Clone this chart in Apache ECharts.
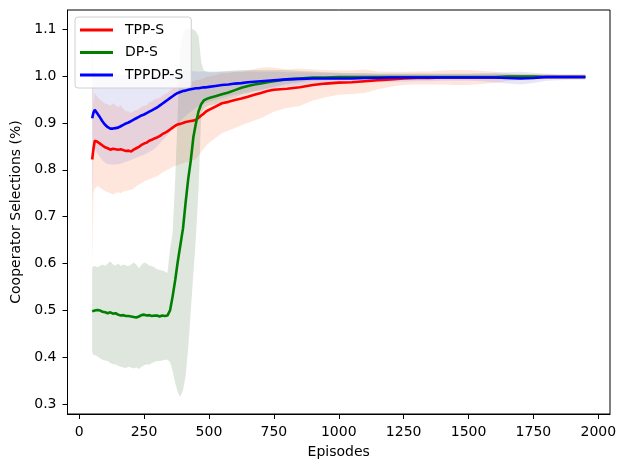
<!DOCTYPE html>
<html>
<head>
<meta charset="utf-8">
<script src="https://cdn.jsdelivr.net/npm/echarts@6/dist/echarts.min.js"></script>
<style>html,body{margin:0;padding:0;background:#fff}#c{width:623px;height:460px}</style>
</head>
<body>
<div id="c"></div>
<script>
const episodes = [50,55,60,70,80,90,100,110,120,130,140,150,160,170,180,190,200,210,220,230,240,250,260,270,280,290,300,310,320,330,340,350,360,370,380,390,400,410,420,430,440,450,460,470,480,490,500,525,550,575,600,625,650,675,700,725,750,775,800,850,900,950,1000,1050,1100,1150,1200,1250,1300,1350,1400,1450,1500,1550,1600,1650,1700,1750,1800,1850,1900,1950];

const xTicks = [0,250,500,750,1000,1250,1500,1750,2000];
const yTicks = [0.3,0.4,0.5,0.6,0.7,0.8,0.9,1.0,1.1];
const seriesNames = ['TPP-S','DP-S','TPPDP-S'];

const tppMean = [0.822,0.845,0.862,0.860,0.856,0.852,0.848,0.846,0.843,0.845,0.844,0.843,0.844,0.842,0.840,0.841,0.839,0.843,0.846,0.849,0.853,0.856,0.858,0.862,0.864,0.867,0.869,0.872,0.876,0.879,0.882,0.886,0.890,0.894,0.897,0.898,0.900,0.902,0.903,0.904,0.905,0.907,0.911,0.916,0.920,0.925,0.928,0.935,0.942,0.945,0.949,0.952,0.956,0.960,0.964,0.968,0.971,0.972,0.973,0.976,0.981,0.984,0.986,0.987,0.989,0.991,0.993,0.995,0.996,0.996,0.997,0.997,0.997,0.997,0.997,0.998,0.998,0.998,0.998,0.998,0.998,0.998];
const tppLow = [0.590,0.750,0.760,0.765,0.762,0.758,0.755,0.752,0.750,0.748,0.750,0.752,0.750,0.754,0.755,0.757,0.757,0.760,0.765,0.768,0.772,0.775,0.778,0.780,0.782,0.784,0.786,0.790,0.794,0.797,0.800,0.803,0.806,0.809,0.810,0.812,0.814,0.816,0.817,0.819,0.821,0.823,0.830,0.838,0.845,0.852,0.857,0.868,0.878,0.884,0.889,0.895,0.900,0.905,0.910,0.917,0.924,0.928,0.932,0.936,0.948,0.955,0.960,0.962,0.964,0.972,0.977,0.981,0.982,0.982,0.982,0.981,0.981,0.983,0.985,0.990,0.992,0.993,0.994,0.994,0.994,0.994];
const tppHigh = [1.090,0.940,0.964,0.955,0.950,0.946,0.941,0.940,0.936,0.942,0.938,0.934,0.938,0.930,0.925,0.925,0.921,0.926,0.927,0.930,0.934,0.937,0.938,0.944,0.946,0.950,0.952,0.954,0.958,0.961,0.964,0.969,0.974,0.979,0.984,0.984,0.986,0.988,0.989,0.989,0.989,0.991,0.992,0.994,0.995,0.998,0.999,1.002,1.006,1.006,1.009,1.009,1.012,1.015,1.018,1.019,1.018,1.016,1.014,1.016,1.014,1.013,1.012,1.012,1.014,1.010,1.009,1.009,1.010,1.010,1.012,1.013,1.013,1.011,1.009,1.006,1.004,1.003,1.002,1.002,1.002,1.002];

const dpMean = [0.498,0.499,0.500,0.501,0.500,0.497,0.496,0.494,0.496,0.493,0.494,0.491,0.489,0.490,0.488,0.488,0.487,0.486,0.485,0.487,0.490,0.491,0.489,0.490,0.488,0.489,0.489,0.487,0.489,0.488,0.489,0.500,0.530,0.565,0.605,0.640,0.675,0.730,0.780,0.820,0.870,0.900,0.925,0.940,0.948,0.951,0.953,0.957,0.961,0.965,0.970,0.975,0.979,0.982,0.984,0.987,0.989,0.991,0.993,0.995,0.997,0.997,0.998,0.998,0.998,0.998,0.998,0.998,0.998,0.998,0.998,0.998,0.998,0.998,0.998,0.999,0.999,0.999,0.998,0.998,0.998,0.998];
const dpLow = [0.410,0.405,0.405,0.402,0.398,0.395,0.393,0.392,0.388,0.385,0.385,0.382,0.380,0.378,0.377,0.380,0.378,0.376,0.379,0.375,0.380,0.383,0.385,0.384,0.388,0.390,0.392,0.392,0.393,0.395,0.395,0.390,0.370,0.345,0.325,0.316,0.330,0.360,0.420,0.500,0.580,0.660,0.760,0.920,0.930,0.935,0.937,0.940,0.945,0.950,0.955,0.960,0.963,0.967,0.970,0.974,0.977,0.980,0.983,0.987,0.990,0.991,0.992,0.993,0.993,0.994,0.994,0.994,0.994,0.994,0.994,0.994,0.994,0.995,0.995,0.995,0.995,0.995,0.995,0.995,0.995,0.995];
const dpHigh = [0.590,0.595,0.595,0.592,0.595,0.598,0.595,0.600,0.605,0.598,0.596,0.600,0.595,0.598,0.596,0.594,0.598,0.602,0.598,0.590,0.597,0.602,0.600,0.596,0.594,0.592,0.588,0.586,0.585,0.583,0.580,0.630,0.665,0.780,0.930,1.060,1.090,1.100,1.102,1.100,1.100,1.095,1.085,1.030,1.012,1.010,1.008,1.008,1.010,1.011,1.012,1.013,1.013,1.013,1.013,1.013,1.013,1.013,1.013,1.011,1.010,1.008,1.007,1.006,1.006,1.005,1.005,1.005,1.005,1.005,1.005,1.005,1.005,1.005,1.005,1.004,1.004,1.004,1.004,1.003,1.003,1.003];

const tppdpMean = [0.910,0.922,0.928,0.920,0.912,0.903,0.896,0.891,0.888,0.888,0.889,0.890,0.893,0.896,0.899,0.901,0.904,0.907,0.910,0.913,0.916,0.918,0.921,0.924,0.927,0.930,0.933,0.937,0.941,0.945,0.949,0.953,0.957,0.961,0.964,0.966,0.968,0.969,0.971,0.972,0.973,0.974,0.974,0.975,0.976,0.976,0.977,0.979,0.981,0.982,0.984,0.985,0.987,0.988,0.989,0.990,0.991,0.992,0.993,0.994,0.995,0.995,0.995,0.995,0.996,0.996,0.997,0.997,0.997,0.997,0.997,0.997,0.997,0.997,0.997,0.996,0.995,0.996,0.998,0.998,0.998,0.998];
const tppdpLow = [0.730,0.840,0.845,0.835,0.828,0.820,0.815,0.812,0.812,0.811,0.812,0.812,0.813,0.815,0.817,0.819,0.821,0.823,0.826,0.828,0.830,0.832,0.835,0.838,0.841,0.845,0.850,0.856,0.862,0.868,0.874,0.880,0.886,0.892,0.898,0.904,0.910,0.915,0.920,0.924,0.928,0.932,0.935,0.938,0.941,0.943,0.945,0.949,0.953,0.957,0.960,0.963,0.966,0.968,0.970,0.972,0.974,0.976,0.978,0.981,0.983,0.984,0.985,0.986,0.986,0.987,0.988,0.988,0.989,0.989,0.990,0.990,0.990,0.989,0.987,0.984,0.982,0.985,0.990,0.991,0.992,0.992];
const tppdpHigh = [1.090,1.000,1.010,1.006,1.004,1.005,1.003,1.006,1.004,1.002,1.005,1.003,1.004,1.001,1.003,1.002,1.004,1.002,1.003,1.001,1.003,1.003,1.004,1.003,1.005,1.004,1.005,1.006,1.007,1.008,1.009,1.010,1.011,1.012,1.012,1.012,1.012,1.012,1.011,1.011,1.011,1.010,1.010,1.010,1.010,1.010,1.010,1.010,1.010,1.010,1.010,1.010,1.010,1.010,1.009,1.009,1.009,1.009,1.008,1.008,1.007,1.007,1.006,1.006,1.006,1.005,1.005,1.005,1.005,1.005,1.005,1.005,1.005,1.006,1.007,1.008,1.009,1.007,1.005,1.004,1.004,1.004];

const FONT = 'DejaVu Sans';
function pts(ys) { return episodes.map((x, i) => [x, ys[i]]); }

function band(id, lo, hi, color) {
  return {
    name: id, type: 'custom', silent: true, z: 1, clip: true,
    data: episodes.map((x, i) => [x, lo[i], hi[i]]),
    renderItem: function (params, api) {
      if (params.dataIndex !== 0) return null;
      const top = episodes.map((x, i) => api.coord([x, hi[i]]));
      const bot = episodes.map((x, i) => api.coord([x, lo[i]])).reverse();
      return {
        type: 'polygon',
        shape: { points: top.concat(bot) },
        style: { fill: color, stroke: null }
      };
    },
    encode: { x: 0, y: [1, 2] }
  };
}
function line(name, ys, color) {
  return { name: name, type: 'line', data: pts(ys), symbol: 'none', z: 5,
    lineStyle: { color: color, width: 2.6 }, itemStyle: { color: color } };
}

const chart = echarts.init(document.getElementById('c'), null, { renderer: 'canvas' });
chart.setOption({
  animation: false,
  backgroundColor: '#fff',
  textStyle: { fontFamily: FONT },
  grid: { left: 67.5, right: 13, top: 10, bottom: 46, containLabel: false, outerBoundsMode: 'none',
    show: true, borderColor: '#000', borderWidth: 1, backgroundColor: 'rgba(0,0,0,0)' },
  legend: {
    data: seriesNames, left: 75, top: 17, orient: 'vertical',
    icon: 'rect', itemWidth: 33, itemHeight: 3, itemGap: 8.5,
    padding: [6, 8, 6, 5],
    borderColor: '#d0d0d0', borderWidth: 1, borderRadius: 3, backgroundColor: 'rgba(255,255,255,0.8)',
    textStyle: { fontFamily: FONT, fontSize: 14, color: '#000', padding: [0, 0, 0, 7] }
  },
  xAxis: {
    type: 'value', min: -45, max: 2045,
    name: 'Episodes', nameLocation: 'middle', nameGap: 31,
    nameTextStyle: { fontFamily: FONT, fontSize: 14, color: '#000' },
    axisLine: { show: true, onZero: false, lineStyle: { color: '#000', width: 1 } },
    axisTick: { show: true, length: 5, customValues: xTicks, lineStyle: { color: '#000' } },
    axisLabel: { customValues: xTicks, fontFamily: FONT, fontSize: 14, color: '#000', margin: 11,
      formatter: v => String(v) },
    splitLine: { show: false }
  },
  yAxis: {
    type: 'value', min: 0.279, max: 1.141,
    name: 'Cooperator Selections (%)', nameLocation: 'middle', nameGap: 43,
    nameTextStyle: { fontFamily: FONT, fontSize: 14, color: '#000' },
    axisLine: { show: true, onZero: false, lineStyle: { color: '#000', width: 1 } },
    axisTick: { show: true, length: 5, customValues: yTicks, lineStyle: { color: '#000' } },
    axisLabel: { customValues: yTicks, fontFamily: FONT, fontSize: 14, color: '#000', margin: 11,
      formatter: v => v.toFixed(1) },
    splitLine: { show: false }
  },
  series: [
    band('tppBand', tppLow, tppHigh, 'rgba(255,160,122,0.26)'),
    band('dpBand', dpLow, dpHigh, 'rgba(90,130,90,0.2)'),
    band('tppdpBand', tppdpLow, tppdpHigh, 'rgba(120,120,210,0.18)'),
    line('TPP-S', tppMean, '#ff0000'),
    line('DP-S', dpMean, '#008000'),
    line('TPPDP-S', tppdpMean, '#0000ff')
  ]
});
</script>
</body>
</html>
